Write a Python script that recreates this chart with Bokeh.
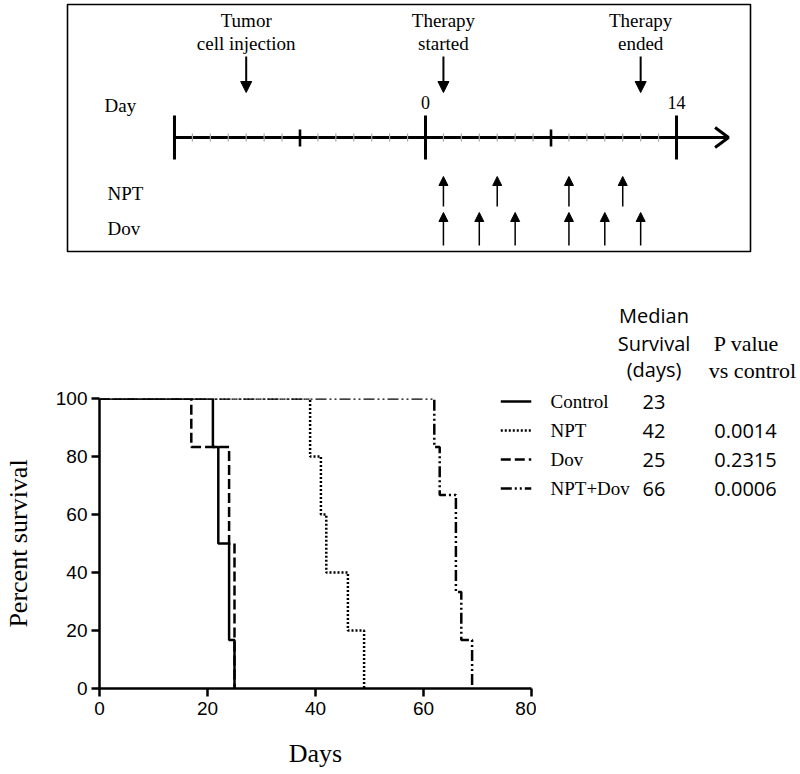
import numpy as np
from bokeh.plotting import figure
from bokeh.models import Range1d, FixedTicker, LinearAxis, Arrow, NormalHead, ColumnDataSource
from bokeh.layouts import column, row
from bokeh.embed import file_html
from bokeh.resources import INLINE
from bokeh.core.properties import value

# ---------------- data: treatment timeline ----------------
timeline_days = list(range(-14, 15))
major_days = [-14, 0, 14]
mid_days = [-7, 7]
event_days = [-10, 1, 12]
event_line1 = ["Tumor", "Therapy", "Therapy"]
event_line2 = ["cell injection", "started", "ended"]
day_mark_days = [0, 14]
day_mark_text = ["0", "14"]
npt_days = [1, 4, 8, 11]
dov_days = [1, 3, 5, 8, 10, 12]

# ---------------- data: survival ----------------
control_t = [0, 21, 22, 24, 25]
control_s = [100, 83.3, 50, 16.7, 0]
npt_t = [0, 39, 41, 42, 46, 49]
npt_s = [100, 80, 60, 40, 20, 0]
dov_t = [0, 17, 24, 25]
dov_s = [100, 83.3, 50, 0]
combo_t = [0, 62, 63, 66, 67, 69]
combo_s = [100, 83.3, 66.7, 33.3, 16.7, 0]

groups = ["Control", "NPT", "Dov", "NPT+Dov"]
median_days = ["23", "42", "25", "66"]
p_values = ["", "0.0014", "0.2315", "0.0006"]
x_ticks = [0, 20, 40, 60, 80]
y_ticks = [0, 20, 40, 60, 80, 100]

# ---------------- layout (page pixels; Bokeh's page has no body margin) ----------------
W = 800
H = 774
H_TOP = 255
H_BOT = H - H_TOP
SERIF = value("Liberation Serif")
CAL = value("Open Sans")


def no_align(fig):
    if hasattr(fig, "frame_align"):
        fig.frame_align = False


def clean(fig):
    fig.grid.visible = False
    fig.outline_line_color = None
    fig.background_fill_color = "white"
    fig.border_fill_color = "white"


# ====== top: treatment schedule ======
TOP_DAY0 = 425.0
TOP_PXD = 17.93


def tx(page_x):
    return (page_x - TOP_DAY0) / TOP_PXD


top = figure(width=W, height=H_TOP, x_range=Range1d(tx(0), tx(W)),
             y_range=Range1d(H_TOP, 0), output_backend="svg", toolbar_location=None,
             x_axis_location=None, y_axis_location=None, min_border=0)
clean(top)
no_align(top)

top.quad(left=[tx(67)], right=[tx(750)], top=[4], bottom=[251],
         fill_color=None, line_color="black", line_width=1.6)

tip = timeline_days[-1] + 2.9
TL_Y = 137
top.line(x=[timeline_days[0], tip], y=[TL_Y, TL_Y], line_color="black", line_width=3)
top.multi_line(xs=[[tip - 0.75, tip, tip - 0.75]], ys=[[TL_Y - 10, TL_Y, TL_Y + 10]],
               line_color="black", line_width=3)
minor = [d for d in timeline_days if d not in major_days + mid_days]
top.segment(x0=minor, x1=minor, y0=[133] * len(minor), y1=[141] * len(minor),
            line_color="#a8a8a8", line_width=1.2)
top.segment(x0=mid_days, x1=mid_days, y0=[129] * 2, y1=[146] * 2,
            line_color="black", line_width=2.6)
top.segment(x0=major_days, x1=major_days, y0=[115] * 3, y1=[159] * 3,
            line_color="black", line_width=3)

top.text(x=day_mark_days, y=[102] * 2, text=day_mark_text, text_font=SERIF,
         text_font_size="18px", text_align="center", text_baseline="middle")
top.text(x=[tx(104)], y=[105], text=["Day"], text_font=SERIF,
         text_font_size="19px", text_align="left", text_baseline="middle")
top.text(x=[tx(107), tx(107)], y=[193, 228], text=["NPT", "Dov"], text_font=SERIF,
         text_font_size="19px", text_align="left", text_baseline="middle")

top.text(x=event_days, y=[20] * 3, text=event_line1, text_font=SERIF,
         text_font_size="19px", text_align="center", text_baseline="middle")
top.text(x=event_days, y=[43] * 3, text=event_line2, text_font=SERIF,
         text_font_size="19px", text_align="center", text_baseline="middle")
ev_src = ColumnDataSource(dict(x=event_days, y0=[56] * 3, y1=[92] * 3))
top.add_layout(Arrow(source=ev_src, x_start="x", x_end="x", y_start="y0", y_end="y1",
                     line_width=2, line_color="black",
                     end=NormalHead(size=11, fill_color="black", line_color="black", line_width=1)))

npt_src = ColumnDataSource(dict(x=npt_days, y0=[206] * len(npt_days), y1=[176] * len(npt_days)))
top.add_layout(Arrow(source=npt_src, x_start="x", x_end="x", y_start="y0", y_end="y1",
                     line_width=1.5, line_color="black",
                     end=NormalHead(size=9, fill_color="black", line_color="black", line_width=1)))
dov_src = ColumnDataSource(dict(x=dov_days, y0=[245] * len(dov_days), y1=[212] * len(dov_days)))
top.add_layout(Arrow(source=dov_src, x_start="x", x_end="x", y_start="y0", y_end="y1",
                     line_width=1.5, line_color="black",
                     end=NormalHead(size=9, fill_color="black", line_color="black", line_width=1)))

# ====== bottom-left: survival curves ======
BOT_W = 536
FRAME_L = 95
FRAME_R = 531
FRAME_T = 398
FRAME_B = 688
PXD = (FRAME_R - FRAME_L) / 80.0
PXP = (FRAME_B - FRAME_T) / 100.0


def bx(page_x):
    return (page_x - FRAME_L) / PXD


def by(page_y):
    return (FRAME_B - page_y) / PXP


bot = figure(width=BOT_W, height=H_BOT, x_range=Range1d(0, 80), y_range=Range1d(0, 100),
             output_backend="svg", toolbar_location=None,
             x_axis_location=None, y_axis_location=None,
             min_border_left=FRAME_L, min_border_right=BOT_W - FRAME_R,
             min_border_top=FRAME_T - H_TOP, min_border_bottom=H - FRAME_B)
clean(bot)
no_align(bot)


def style_axis(ax):
    ax.axis_line_width = 2.5
    ax.axis_line_color = "black"
    ax.major_tick_line_width = 2.5
    ax.major_tick_line_color = "black"
    ax.major_tick_out = 8
    ax.major_tick_in = 0
    ax.minor_tick_line_color = None
    ax.major_label_text_font = "Liberation Sans"
    ax.major_label_text_font_size = "19px"
    ax.major_label_text_color = "black"
    ax.axis_label_text_font = "Liberation Serif"
    ax.axis_label_text_font_size = "26px"
    ax.axis_label_text_font_style = "normal"
    ax.axis_label_text_color = "black"


xaxis = LinearAxis(ticker=FixedTicker(ticks=x_ticks), axis_label="Days")
style_axis(xaxis)
xaxis.major_label_standoff = 5
xaxis.axis_label_standoff = 21
bot.add_layout(xaxis, "below")

yaxis = LinearAxis(ticker=FixedTicker(ticks=y_ticks), axis_label="Percent survival")
style_axis(yaxis)
yaxis.major_label_standoff = 4
yaxis.axis_label_standoff = 20
bot.add_layout(yaxis, "left")

styles = [
    dict(line_dash="solid"),
    dict(line_dash="2 2"),
    dict(line_dash="10 4"),
    dict(line_dash="11 3 2 3 2 3"),
]
series = [(control_t, control_s), (npt_t, npt_s), (dov_t, dov_s), (combo_t, combo_s)]
for (t, s), st in zip(series, styles):
    bot.step(x=t, y=s, mode="after", line_color="black", line_width=2.5, **st)

row_y = [401, 430, 459, 488]
LEG_X0, LEG_X1 = 500, 531
for yy, st in zip(row_y, styles):
    bot.line(x=[bx(LEG_X0), bx(LEG_X1)], y=[by(yy)] * 2, line_color="black", line_width=2.5, **st)

# ====== bottom-right: table ======
leg = figure(width=W - BOT_W, height=H_BOT, x_range=Range1d(BOT_W, W), y_range=Range1d(H, H_TOP),
             output_backend="svg", toolbar_location=None,
             x_axis_location=None, y_axis_location=None, min_border=0)
clean(leg)
no_align(leg)

MED_X = 653.5
leg.text(x=[MED_X] * 3, y=[315, 343, 369], text=["Median", "Survival", "(days)"],
         text_font=CAL, text_font_size="20px", text_align="center", text_baseline="middle")
leg.text(x=[746, 752], y=[343, 370], text=["P value", "vs control"],
         text_font=SERIF, text_font_size="22px", text_align="center", text_baseline="middle")
leg.text(x=[550] * 4, y=row_y, text=groups, text_font=SERIF,
         text_font_size="19px", text_align="left", text_baseline="middle")
leg.text(x=[MED_X] * 4, y=row_y, text=median_days, text_font=CAL,
         text_font_size="20px", text_align="center", text_baseline="middle")
leg.text(x=[745] * 4, y=row_y, text=p_values, text_font=CAL,
         text_font_size="20px", text_align="center", text_baseline="middle")

p = column(top, row(bot, leg, spacing=0), spacing=0)
open("out.html", "w").write(file_html(p, INLINE))
